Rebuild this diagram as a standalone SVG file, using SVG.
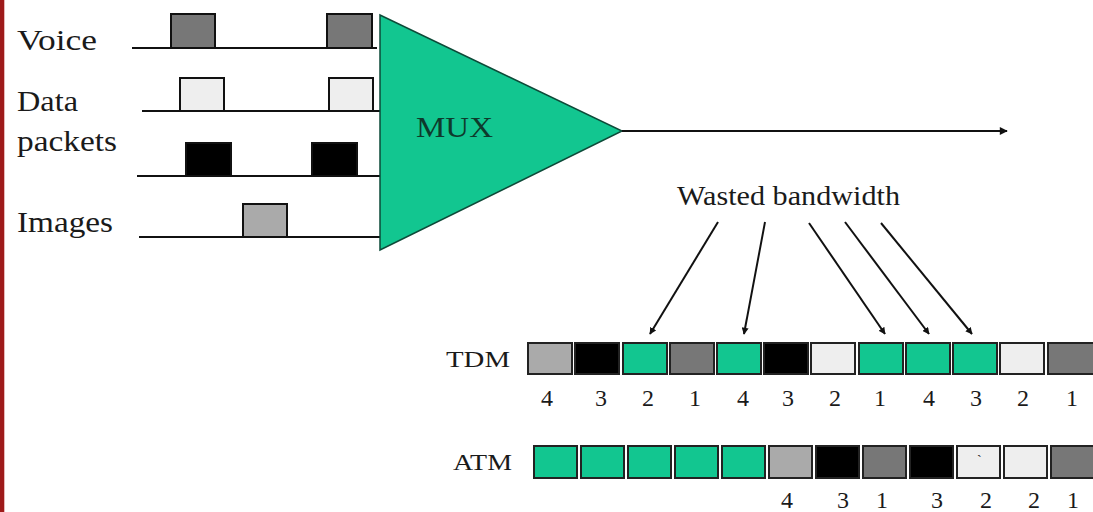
<svg xmlns="http://www.w3.org/2000/svg" width="1093" height="512" viewBox="0 0 1093 512">
  <style>
    .lbl { font-family: "Liberation Serif", "Times New Roman", serif; fill: #1a1a1a; }
    .big { font-size: 29px; }
    .mid { font-size: 27px; }
    .sm { font-size: 23px; }
    .num { font-family: "Liberation Serif", "Times New Roman", serif; font-size: 24px; fill: #1a1a1a; text-anchor: middle; }
    .wire { stroke: #111; stroke-width: 2; fill: none; }
    .pkt { stroke: #111; stroke-width: 2; }
    .cell { stroke: #222; stroke-width: 2; }
    .voice { fill: #777777; }
    .data { fill: #eeeeee; }
    .pk { fill: #000000; }
    .img { fill: #aaaaaa; }
    .idle { fill: #12c690; }
  </style>
  <defs>
    <marker id="arr" viewBox="0 0 10 10" refX="9" refY="5" markerWidth="7" markerHeight="7" orient="auto" markerUnits="userSpaceOnUse">
      <path d="M0,0 L10,5 L0,10 z" fill="#111"/>
    </marker>
    <marker id="arrBig" viewBox="0 0 10 10" refX="9" refY="5" markerWidth="10" markerHeight="8" orient="auto" markerUnits="userSpaceOnUse">
      <path d="M0,0 L10,5 L0,10 z" fill="#111"/>
    </marker>
  </defs>

  <rect width="1093" height="512" fill="#ffffff"/>
  <!-- left edge band -->
  <rect x="0" y="0" width="4" height="512" fill="#9e1a1a"/>
  <rect x="4" y="0" width="1" height="512" fill="#e6b8b8"/>

  <!-- input streams -->
  <g id="voice">
    <text class="lbl big" x="17" y="50" textLength="80" lengthAdjust="spacingAndGlyphs">Voice</text>
    <rect class="pkt voice" x="171" y="14" width="44" height="34"/>
    <rect class="pkt voice" x="327" y="14" width="45" height="34"/>
    <line class="wire" x1="132" y1="48" x2="377" y2="48"/>
  </g>
  <g id="data">
    <text class="lbl big" x="17" y="111" textLength="61" lengthAdjust="spacingAndGlyphs">Data</text>
    <text class="lbl big" x="17" y="151" textLength="100" lengthAdjust="spacingAndGlyphs">packets</text>
    <rect class="pkt data" x="180" y="78" width="44" height="33"/>
    <rect class="pkt data" x="329" y="78" width="44" height="33"/>
    <line class="wire" x1="142" y1="111" x2="385" y2="111"/>
  </g>
  <g id="packets">
    <rect class="pkt pk" x="186" y="143" width="45" height="33"/>
    <rect class="pkt pk" x="312" y="143" width="45" height="33"/>
    <line class="wire" x1="137" y1="176" x2="381" y2="176"/>
  </g>
  <g id="images">
    <text class="lbl big" x="17" y="232" textLength="96" lengthAdjust="spacingAndGlyphs">Images</text>
    <rect class="pkt img" x="243" y="204" width="44" height="33"/>
    <line class="wire" x1="139" y1="237" x2="380" y2="237"/>
  </g>

  <!-- multiplexer -->
  <g id="mux">
    <polygon points="380,15 380,250 622,131" fill="#12c690" stroke="#0d4a38" stroke-width="1.5"/>
    <text class="lbl big" x="416" y="137" textLength="77" lengthAdjust="spacingAndGlyphs" style="fill:#0e3a2c">MUX</text>
  </g>

  <g id="wasted-label">
    <text class="lbl mid" x="677" y="205" textLength="223" lengthAdjust="spacingAndGlyphs">Wasted bandwidth</text>
  </g>

  <!-- connectors -->
  <g id="connectors">
    <line class="wire" x1="622" y1="131" x2="1007" y2="131" marker-end="url(#arrBig)"/>
    <line class="wire" x1="718" y1="222" x2="650" y2="334" marker-end="url(#arr)" stroke-width="1.5"/>
    <line class="wire" x1="765" y1="222" x2="744" y2="334" marker-end="url(#arr)" stroke-width="1.5"/>
    <line class="wire" x1="809" y1="223" x2="885" y2="334" marker-end="url(#arr)" stroke-width="1.5"/>
    <line class="wire" x1="845" y1="222" x2="929" y2="334" marker-end="url(#arr)" stroke-width="1.5"/>
    <line class="wire" x1="881" y1="223" x2="972" y2="334" marker-end="url(#arr)" stroke-width="1.5"/>
  </g>

  <!-- TDM frame -->
  <g id="tdm">
    <text class="lbl sm" x="446" y="367" textLength="64" lengthAdjust="spacingAndGlyphs">TDM</text>
    <rect class="cell img" x="528" y="343" width="44" height="31"/>
    <rect class="cell pk" x="575" y="343" width="44" height="31"/>
    <rect class="cell idle" x="623" y="343" width="44" height="31"/>
    <rect class="cell voice" x="670" y="343" width="44" height="31"/>
    <rect class="cell idle" x="717" y="343" width="44" height="31"/>
    <rect class="cell pk" x="764" y="343" width="44" height="31"/>
    <rect class="cell data" x="811" y="343" width="44" height="31"/>
    <rect class="cell idle" x="859" y="343" width="44" height="31"/>
    <rect class="cell idle" x="906" y="343" width="44" height="31"/>
    <rect class="cell idle" x="953" y="343" width="44" height="31"/>
    <rect class="cell data" x="1000" y="343" width="44" height="31"/>
    <rect class="cell voice" x="1048" y="343" width="46" height="31"/>
    <text class="num" x="547" y="406">4</text>
    <text class="num" x="601" y="406">3</text>
    <text class="num" x="648" y="406">2</text>
    <text class="num" x="695" y="406">1</text>
    <text class="num" x="743" y="406">4</text>
    <text class="num" x="788" y="406">3</text>
    <text class="num" x="835" y="406">2</text>
    <text class="num" x="880" y="406">1</text>
    <text class="num" x="929" y="406">4</text>
    <text class="num" x="976" y="406">3</text>
    <text class="num" x="1023" y="406">2</text>
    <text class="num" x="1072" y="406">1</text>
  </g>

  <!-- ATM frame -->
  <g id="atm">
    <text class="lbl sm" x="453" y="470" textLength="59" lengthAdjust="spacingAndGlyphs">ATM</text>
    <rect class="cell idle" x="534" y="446" width="43" height="32"/>
    <rect class="cell idle" x="581" y="446" width="43" height="32"/>
    <rect class="cell idle" x="628" y="446" width="43" height="32"/>
    <rect class="cell idle" x="675" y="446" width="43" height="32"/>
    <rect class="cell idle" x="722" y="446" width="43" height="32"/>
    <rect class="cell img" x="769" y="446" width="43" height="32"/>
    <rect class="cell pk" x="816" y="446" width="43" height="32"/>
    <rect class="cell voice" x="863" y="446" width="43" height="32"/>
    <rect class="cell pk" x="910" y="446" width="43" height="32"/>
    <rect class="cell data" x="957" y="446" width="43" height="32"/>
    <rect class="cell data" x="1004" y="446" width="43" height="32"/>
    <rect class="cell voice" x="1051" y="446" width="43" height="32"/>
    <text class="lbl" x="977" y="465" font-size="14">`</text>
    <text class="num" x="787" y="508">4</text>
    <text class="num" x="843" y="508">3</text>
    <text class="num" x="882" y="508">1</text>
    <text class="num" x="937" y="508">3</text>
    <text class="num" x="986" y="508">2</text>
    <text class="num" x="1034" y="508">2</text>
    <text class="num" x="1073" y="508">1</text>
  </g>
</svg>
